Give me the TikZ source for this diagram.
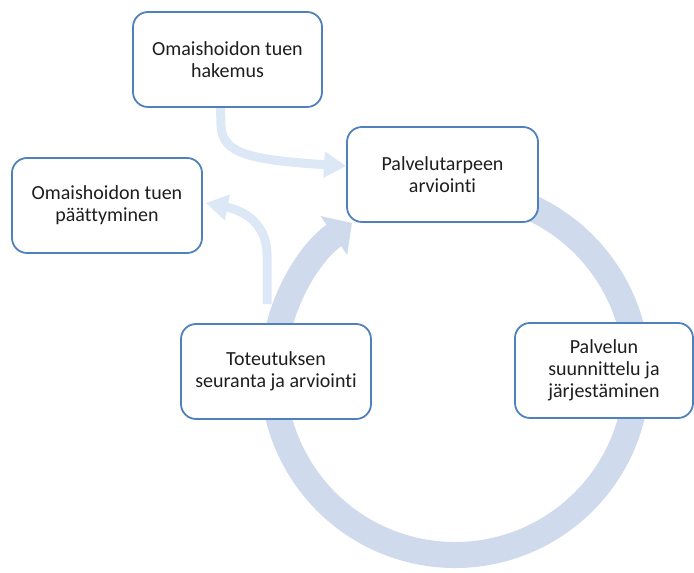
\documentclass[tikz,border=0pt]{standalone}
\usepackage{fontspec}
\setmainfont{Carlito}[Ligatures={NoCommon,NoContextual}]
\usetikzlibrary{arrows.meta,calc,backgrounds}
\definecolor{ringcol}{RGB}{207,218,236}
\definecolor{lightcol}{RGB}{221,232,246}
\definecolor{boxcol}{RGB}{79,129,189}
\definecolor{txtcol}{RGB}{30,30,30}
\tikzset{
  stepbox/.style={draw=boxcol, line width=1.8pt, fill=white, rounded corners=15pt,
    minimum height=95pt, align=center, text=txtcol,
    font=\fontsize{20}{22}\selectfont, inner sep=0pt},
  ringarrow/.style={draw=ringcol, line width=26pt, -{Triangle[width=46pt,length=22pt]}},
  lightarrow/.style={draw=lightcol, line width=9pt, -{Triangle[width=25pt,length=22pt]}}
}
\begin{document}
\begin{tikzpicture}[x=1pt,y=1pt]
\useasboundingbox (0,0) rectangle (694,573);
\node[stepbox, minimum width=189pt] (hak) at (227.5,513.5) {Omaishoidon tuen\\hakemus};
\node[stepbox, minimum width=191pt] (arv) at (442.5,398.5) {Palvelutarpeen\\arviointi};
\node[stepbox, minimum width=190pt] (paat) at (107,367.5) {Omaishoidon tuen\\päättyminen};
\node[stepbox, minimum width=190pt] (tot) at (276,201.5) {Toteutuksen\\seuranta ja arviointi};
\node[stepbox, minimum width=178pt] (pal) at (604,202.5) {Palvelun\\suunnittelu ja\\järjestäminen};
\coordinate (c) at (455,200);
\begin{pgfonlayer}{background}
\draw[ringarrow] ($(c)+(80:182)$) arc[start angle=80, end angle=-235.5, radius=182];
\draw[lightarrow] ($(hak.south)+(-7,0)$) -- ($(hak.south)+(-6.5,-18)$)
  .. controls ($(hak.south)+(-5,-45)$) and ($(hak.south)+(20,-52)$) .. ($(arv.west)+(0,8.5)$);
\draw[lightarrow] ($(tot.north)+(-9,19)$) -- ($(tot.north)+(-9,68)$)
  .. controls ($(tot.north)+(-9,98)$) and ($(tot.north)+(-30,112)$) .. ($(paat.east)+(3,2.5)$);
\end{pgfonlayer}
\end{tikzpicture}
\end{document}
